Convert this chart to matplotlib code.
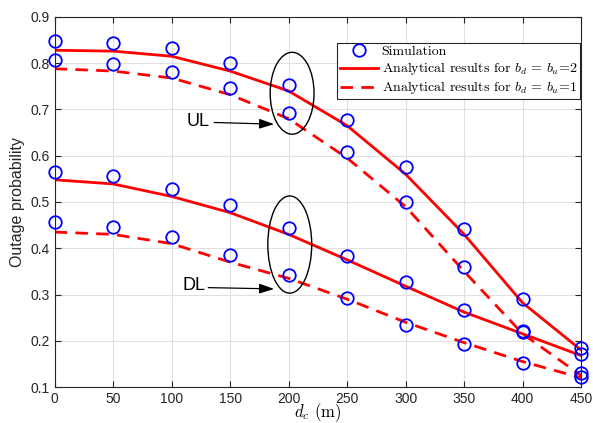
import numpy as np
import matplotlib
matplotlib.use("Agg")
import matplotlib.pyplot as plt
from matplotlib.patches import Ellipse
from matplotlib.lines import Line2D

plt.rcParams['mathtext.fontset'] = 'cm'
plt.rcParams['font.family'] = ['Liberation Sans', 'DejaVu Sans']

# distance d_c (m)
dc = [0, 50, 100, 150, 200, 250, 300, 350, 400, 450]

# simulation points
sim_ul_2 = [0.848, 0.843, 0.832, 0.800, 0.753, 0.678, 0.575, 0.441, 0.290, 0.185]
sim_ul_1 = [0.806, 0.798, 0.781, 0.746, 0.692, 0.609, 0.501, 0.359, 0.218, 0.130]
sim_dl_2 = [0.565, 0.556, 0.527, 0.494, 0.444, 0.384, 0.326, 0.266, 0.222, 0.172]
sim_dl_1 = [0.456, 0.445, 0.425, 0.385, 0.343, 0.293, 0.235, 0.193, 0.152, 0.121]

# analytical results
ana_ul_2 = [0.828, 0.826, 0.815, 0.783, 0.740, 0.665, 0.560, 0.430, 0.282, 0.180]
ana_ul_1 = [0.788, 0.783, 0.768, 0.732, 0.680, 0.595, 0.490, 0.350, 0.215, 0.125]
ana_dl_2 = [0.548, 0.539, 0.512, 0.477, 0.430, 0.375, 0.318, 0.262, 0.215, 0.168]
ana_dl_1 = [0.435, 0.430, 0.410, 0.370, 0.335, 0.290, 0.240, 0.196, 0.155, 0.120]

fig = plt.figure(figsize=(5.93, 4.23), dpi=100)
ax = fig.add_axes([0.092, 0.085, 0.888, 0.875])

red = '#ff0000'
blue = '#0000ff'
dash = (0, (4.5, 3))

ax.plot(dc, ana_ul_2, color=red, lw=2, zorder=2)
ax.plot(dc, ana_ul_1, color=red, lw=2, ls=dash, zorder=2)
ax.plot(dc, ana_dl_2, color=red, lw=2, zorder=2)
ax.plot(dc, ana_dl_1, color=red, lw=2, ls=dash, zorder=2)

for s in [sim_ul_2, sim_ul_1, sim_dl_2, sim_dl_1]:
    ax.plot(dc, s, 'o', ms=9, mfc='none', mec=blue, mew=1.3, zorder=3, clip_on=False)

# ellipses and arrows
ax.add_patch(Ellipse((203, 0.735), 37.5, 0.177, fill=False, ec='black', lw=1, zorder=4))
ax.add_patch(Ellipse((201, 0.408), 37.5, 0.21, fill=False, ec='black', lw=1, zorder=4))
arrow = dict(arrowstyle='-|>,head_length=0.9,head_width=0.3', color='black', lw=0.9)
ax.annotate('', xy=(190, 0.668), xytext=(134, 0.672), arrowprops=arrow)
ax.annotate('', xy=(190, 0.312), xytext=(129, 0.315), arrowprops=arrow)
ax.text(113, 0.673, 'UL', fontsize=13, va='center', ha='left')
ax.text(109, 0.320, 'DL', fontsize=13, va='center', ha='left')

# legend
handles = [
    Line2D([], [], ls='none', marker='o', ms=9, mfc='none', mec=blue, mew=1.3),
    Line2D([], [], color=red, lw=2),
    Line2D([], [], color=red, lw=2, ls=dash),
]
labels = ['Simulation',
          r'Analytical results for $b_d\,=\,b_u$=2',
          r'Analytical results for $b_d\,=\,b_u$=1']
leg = ax.legend(handles, labels, loc='upper right', bbox_to_anchor=(0.998, 0.93),
                prop={'family': 'cmr10', 'size': 10}, handlelength=2.7,
                fancybox=False, framealpha=1, edgecolor='#262626',
                borderpad=0.2, labelspacing=0.15, handletextpad=0.3, borderaxespad=0)
leg.get_frame().set_linewidth(0.8)

ax.set_xlim(0, 450)
ax.set_ylim(0.1, 0.9)
ax.set_xticks(np.arange(0, 451, 50))
ax.set_yticks(np.arange(0.1, 0.91, 0.1))
ax.set_yticklabels(['0.1', '0.2', '0.3', '0.4', '0.5', '0.6', '0.7', '0.8', '0.9'])
ax.grid(True, color='#e0e0e0', lw=0.8)
ax.set_axisbelow(True)
ax.tick_params(direction='in', top=True, right=True, labelsize=10,
               colors='#262626', length=4, width=0.8)
for sp in ax.spines.values():
    sp.set_color('#262626')
    sp.set_linewidth(0.8)

ax.set_xlabel(r'$d_c$ (m)', family='cmr10', fontsize=12, labelpad=-3)
ax.set_ylabel('Outage probability', fontsize=11.5, color='#262626', labelpad=4)

fig.savefig('out.png', dpi=100)
